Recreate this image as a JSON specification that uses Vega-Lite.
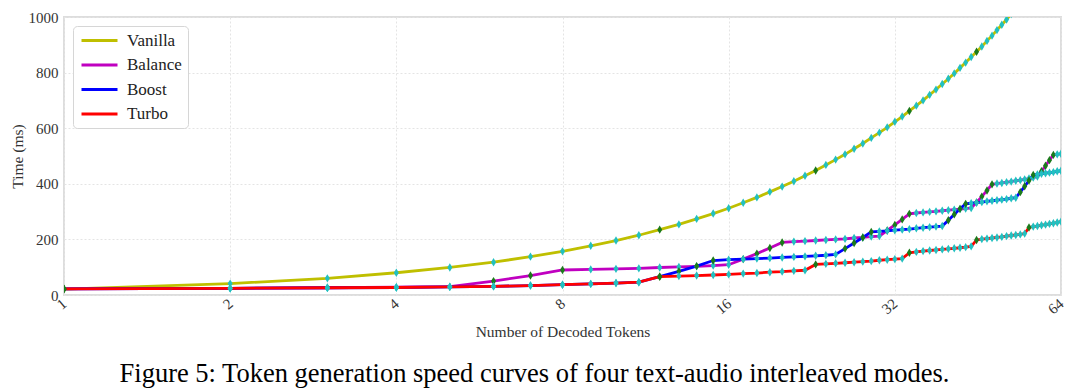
{
"$schema": "https://vega.github.io/schema/vega-lite/v6.json",
"width": 997, "height": 278,
"autosize": {"type": "none"},
"padding": {"left": 64, "top": 17, "right": 19, "bottom": 93},
"background": "white",
"title": {"text": "Figure 5: Token generation speed curves of four text-audio interleaved modes.", "orient": "bottom", "anchor": "middle", "font": "Liberation Serif", "fontSize": 26.5, "fontWeight": "normal", "color": "#000000", "offset": 21, "dx": -28},
"config": {
  "view": {"stroke": "#dddddd", "strokeWidth": 2},
  "axis": {"labelFont": "Liberation Serif", "titleFont": "Liberation Serif", "labelFontSize": 15, "titleFontSize": 15.5, "labelColor": "#333333", "titleColor": "#333333", "titleFontWeight": "normal", "gridColor": "#e4e4e4", "gridDash": [2, 2], "gridWidth": 1, "domain": false, "ticks": false}
},
"datasets": {
"speed": [
{"tokens":1,"mode":"Vanilla","ms":21,"kind":"jump"},{"tokens":2,"mode":"Vanilla","ms":41,"kind":"flat"},{"tokens":3,"mode":"Vanilla","ms":60,"kind":"flat"},{"tokens":4,"mode":"Vanilla","ms":80,"kind":"flat"},{"tokens":5,"mode":"Vanilla","ms":99,"kind":"flat"},{"tokens":6,"mode":"Vanilla","ms":118,"kind":"flat"},{"tokens":7,"mode":"Vanilla","ms":138,"kind":"flat"},{"tokens":8,"mode":"Vanilla","ms":157,"kind":"flat"},{"tokens":9,"mode":"Vanilla","ms":177,"kind":"flat"},{"tokens":10,"mode":"Vanilla","ms":196,"kind":"flat"},
{"tokens":11,"mode":"Vanilla","ms":215,"kind":"flat"},{"tokens":12,"mode":"Vanilla","ms":235,"kind":"jump"},{"tokens":13,"mode":"Vanilla","ms":254,"kind":"flat"},{"tokens":14,"mode":"Vanilla","ms":274,"kind":"flat"},{"tokens":15,"mode":"Vanilla","ms":293,"kind":"flat"},{"tokens":16,"mode":"Vanilla","ms":312,"kind":"flat"},{"tokens":17,"mode":"Vanilla","ms":332,"kind":"flat"},{"tokens":18,"mode":"Vanilla","ms":351,"kind":"flat"},{"tokens":19,"mode":"Vanilla","ms":371,"kind":"flat"},{"tokens":20,"mode":"Vanilla","ms":390,"kind":"flat"},
{"tokens":21,"mode":"Vanilla","ms":409,"kind":"flat"},{"tokens":22,"mode":"Vanilla","ms":429,"kind":"flat"},{"tokens":23,"mode":"Vanilla","ms":448,"kind":"jump"},{"tokens":24,"mode":"Vanilla","ms":468,"kind":"flat"},{"tokens":25,"mode":"Vanilla","ms":487,"kind":"flat"},{"tokens":26,"mode":"Vanilla","ms":506,"kind":"flat"},{"tokens":27,"mode":"Vanilla","ms":526,"kind":"flat"},{"tokens":28,"mode":"Vanilla","ms":545,"kind":"flat"},{"tokens":29,"mode":"Vanilla","ms":565,"kind":"flat"},{"tokens":30,"mode":"Vanilla","ms":584,"kind":"flat"},
{"tokens":31,"mode":"Vanilla","ms":603,"kind":"flat"},{"tokens":32,"mode":"Vanilla","ms":623,"kind":"flat"},{"tokens":33,"mode":"Vanilla","ms":642,"kind":"flat"},{"tokens":34,"mode":"Vanilla","ms":662,"kind":"jump"},{"tokens":35,"mode":"Vanilla","ms":681,"kind":"flat"},{"tokens":36,"mode":"Vanilla","ms":700,"kind":"flat"},{"tokens":37,"mode":"Vanilla","ms":720,"kind":"flat"},{"tokens":38,"mode":"Vanilla","ms":739,"kind":"flat"},{"tokens":39,"mode":"Vanilla","ms":759,"kind":"flat"},{"tokens":40,"mode":"Vanilla","ms":778,"kind":"flat"},
{"tokens":41,"mode":"Vanilla","ms":797,"kind":"flat"},{"tokens":42,"mode":"Vanilla","ms":817,"kind":"flat"},{"tokens":43,"mode":"Vanilla","ms":836,"kind":"flat"},{"tokens":44,"mode":"Vanilla","ms":856,"kind":"flat"},{"tokens":45,"mode":"Vanilla","ms":875,"kind":"jump"},{"tokens":46,"mode":"Vanilla","ms":894,"kind":"flat"},{"tokens":47,"mode":"Vanilla","ms":914,"kind":"flat"},{"tokens":48,"mode":"Vanilla","ms":933,"kind":"flat"},{"tokens":49,"mode":"Vanilla","ms":953,"kind":"flat"},{"tokens":50,"mode":"Vanilla","ms":972,"kind":"flat"},
{"tokens":51,"mode":"Vanilla","ms":991,"kind":"flat"},{"tokens":52,"mode":"Vanilla","ms":1011,"kind":"flat"},{"tokens":53,"mode":"Vanilla","ms":1030,"kind":"flat"},{"tokens":54,"mode":"Vanilla","ms":1050,"kind":"flat"},{"tokens":55,"mode":"Vanilla","ms":1069,"kind":"flat"},{"tokens":56,"mode":"Vanilla","ms":1088,"kind":"jump"},{"tokens":57,"mode":"Vanilla","ms":1108,"kind":"flat"},{"tokens":58,"mode":"Vanilla","ms":1127,"kind":"flat"},{"tokens":59,"mode":"Vanilla","ms":1147,"kind":"flat"},{"tokens":60,"mode":"Vanilla","ms":1166,"kind":"flat"},
{"tokens":61,"mode":"Vanilla","ms":1185,"kind":"flat"},{"tokens":62,"mode":"Vanilla","ms":1205,"kind":"flat"},{"tokens":63,"mode":"Vanilla","ms":1224,"kind":"flat"},{"tokens":64,"mode":"Vanilla","ms":1244,"kind":"flat"},
{"tokens":1,"mode":"Balance","ms":22,"kind":"jump"},{"tokens":2,"mode":"Balance","ms":24,"kind":"flat"},{"tokens":3,"mode":"Balance","ms":26,"kind":"flat"},{"tokens":4,"mode":"Balance","ms":28,"kind":"flat"},{"tokens":5,"mode":"Balance","ms":30,"kind":"flat"},{"tokens":6,"mode":"Balance","ms":50,"kind":"jump"},{"tokens":7,"mode":"Balance","ms":70,"kind":"jump"},{"tokens":8,"mode":"Balance","ms":90,"kind":"jump"},{"tokens":9,"mode":"Balance","ms":92,"kind":"flat"},{"tokens":10,"mode":"Balance","ms":94,"kind":"flat"},
{"tokens":11,"mode":"Balance","ms":96,"kind":"flat"},{"tokens":12,"mode":"Balance","ms":99,"kind":"flat"},{"tokens":13,"mode":"Balance","ms":101,"kind":"flat"},{"tokens":14,"mode":"Balance","ms":103,"kind":"flat"},{"tokens":15,"mode":"Balance","ms":106,"kind":"flat"},{"tokens":16,"mode":"Balance","ms":109,"kind":"flat"},{"tokens":17,"mode":"Balance","ms":129,"kind":"jump"},{"tokens":18,"mode":"Balance","ms":149,"kind":"jump"},{"tokens":19,"mode":"Balance","ms":169,"kind":"jump"},{"tokens":20,"mode":"Balance","ms":189,"kind":"jump"},
{"tokens":21,"mode":"Balance","ms":192,"kind":"flat"},{"tokens":22,"mode":"Balance","ms":194,"kind":"flat"},{"tokens":23,"mode":"Balance","ms":196,"kind":"flat"},{"tokens":24,"mode":"Balance","ms":198,"kind":"flat"},{"tokens":25,"mode":"Balance","ms":200,"kind":"flat"},{"tokens":26,"mode":"Balance","ms":202,"kind":"flat"},{"tokens":27,"mode":"Balance","ms":205,"kind":"flat"},{"tokens":28,"mode":"Balance","ms":207,"kind":"flat"},{"tokens":29,"mode":"Balance","ms":210,"kind":"flat"},{"tokens":30,"mode":"Balance","ms":212,"kind":"flat"},
{"tokens":31,"mode":"Balance","ms":232,"kind":"jump"},{"tokens":32,"mode":"Balance","ms":252,"kind":"jump"},{"tokens":33,"mode":"Balance","ms":272,"kind":"jump"},{"tokens":34,"mode":"Balance","ms":292,"kind":"jump"},{"tokens":35,"mode":"Balance","ms":295,"kind":"flat"},{"tokens":36,"mode":"Balance","ms":297,"kind":"flat"},{"tokens":37,"mode":"Balance","ms":299,"kind":"flat"},{"tokens":38,"mode":"Balance","ms":301,"kind":"flat"},{"tokens":39,"mode":"Balance","ms":303,"kind":"flat"},{"tokens":40,"mode":"Balance","ms":305,"kind":"flat"},
{"tokens":41,"mode":"Balance","ms":307,"kind":"flat"},{"tokens":42,"mode":"Balance","ms":309,"kind":"flat"},{"tokens":43,"mode":"Balance","ms":311,"kind":"flat"},{"tokens":44,"mode":"Balance","ms":313,"kind":"flat"},{"tokens":45,"mode":"Balance","ms":333,"kind":"jump"},{"tokens":46,"mode":"Balance","ms":354,"kind":"jump"},{"tokens":47,"mode":"Balance","ms":376,"kind":"jump"},{"tokens":48,"mode":"Balance","ms":398,"kind":"jump"},{"tokens":49,"mode":"Balance","ms":401,"kind":"flat"},{"tokens":50,"mode":"Balance","ms":403,"kind":"flat"},
{"tokens":51,"mode":"Balance","ms":406,"kind":"flat"},{"tokens":52,"mode":"Balance","ms":408,"kind":"flat"},{"tokens":53,"mode":"Balance","ms":411,"kind":"flat"},{"tokens":54,"mode":"Balance","ms":413,"kind":"flat"},{"tokens":55,"mode":"Balance","ms":416,"kind":"flat"},{"tokens":56,"mode":"Balance","ms":419,"kind":"flat"},{"tokens":57,"mode":"Balance","ms":422,"kind":"flat"},{"tokens":58,"mode":"Balance","ms":426,"kind":"flat"},{"tokens":59,"mode":"Balance","ms":445,"kind":"jump"},{"tokens":60,"mode":"Balance","ms":465,"kind":"jump"},
{"tokens":61,"mode":"Balance","ms":485,"kind":"jump"},{"tokens":62,"mode":"Balance","ms":504,"kind":"jump"},{"tokens":63,"mode":"Balance","ms":506,"kind":"flat"},{"tokens":64,"mode":"Balance","ms":508,"kind":"flat"},
{"tokens":1,"mode":"Boost","ms":22,"kind":"jump"},{"tokens":2,"mode":"Boost","ms":24,"kind":"flat"},{"tokens":3,"mode":"Boost","ms":26,"kind":"flat"},{"tokens":4,"mode":"Boost","ms":27,"kind":"flat"},{"tokens":5,"mode":"Boost","ms":29,"kind":"flat"},{"tokens":6,"mode":"Boost","ms":31,"kind":"flat"},{"tokens":7,"mode":"Boost","ms":34,"kind":"flat"},{"tokens":8,"mode":"Boost","ms":37,"kind":"flat"},{"tokens":9,"mode":"Boost","ms":40,"kind":"flat"},{"tokens":10,"mode":"Boost","ms":43,"kind":"flat"},
{"tokens":11,"mode":"Boost","ms":46,"kind":"flat"},{"tokens":12,"mode":"Boost","ms":66,"kind":"jump"},{"tokens":13,"mode":"Boost","ms":85,"kind":"jump"},{"tokens":14,"mode":"Boost","ms":104,"kind":"jump"},{"tokens":15,"mode":"Boost","ms":124,"kind":"jump"},{"tokens":16,"mode":"Boost","ms":127,"kind":"flat"},{"tokens":17,"mode":"Boost","ms":129,"kind":"flat"},{"tokens":18,"mode":"Boost","ms":131,"kind":"flat"},{"tokens":19,"mode":"Boost","ms":133,"kind":"flat"},{"tokens":20,"mode":"Boost","ms":135,"kind":"flat"},
{"tokens":21,"mode":"Boost","ms":137,"kind":"flat"},{"tokens":22,"mode":"Boost","ms":139,"kind":"flat"},{"tokens":23,"mode":"Boost","ms":141,"kind":"flat"},{"tokens":24,"mode":"Boost","ms":143,"kind":"flat"},{"tokens":25,"mode":"Boost","ms":146,"kind":"flat"},{"tokens":26,"mode":"Boost","ms":167,"kind":"jump"},{"tokens":27,"mode":"Boost","ms":187,"kind":"jump"},{"tokens":28,"mode":"Boost","ms":207,"kind":"jump"},{"tokens":29,"mode":"Boost","ms":227,"kind":"jump"},{"tokens":30,"mode":"Boost","ms":229,"kind":"flat"},
{"tokens":31,"mode":"Boost","ms":231,"kind":"flat"},{"tokens":32,"mode":"Boost","ms":233,"kind":"flat"},{"tokens":33,"mode":"Boost","ms":235,"kind":"flat"},{"tokens":34,"mode":"Boost","ms":237,"kind":"flat"},{"tokens":35,"mode":"Boost","ms":240,"kind":"flat"},{"tokens":36,"mode":"Boost","ms":242,"kind":"flat"},{"tokens":37,"mode":"Boost","ms":244,"kind":"flat"},{"tokens":38,"mode":"Boost","ms":246,"kind":"flat"},{"tokens":39,"mode":"Boost","ms":248,"kind":"flat"},{"tokens":40,"mode":"Boost","ms":269,"kind":"jump"},
{"tokens":41,"mode":"Boost","ms":290,"kind":"jump"},{"tokens":42,"mode":"Boost","ms":310,"kind":"jump"},{"tokens":43,"mode":"Boost","ms":328,"kind":"jump"},{"tokens":44,"mode":"Boost","ms":330,"kind":"flat"},{"tokens":45,"mode":"Boost","ms":332,"kind":"flat"},{"tokens":46,"mode":"Boost","ms":334,"kind":"flat"},{"tokens":47,"mode":"Boost","ms":337,"kind":"flat"},{"tokens":48,"mode":"Boost","ms":339,"kind":"flat"},{"tokens":49,"mode":"Boost","ms":341,"kind":"flat"},{"tokens":50,"mode":"Boost","ms":343,"kind":"flat"},
{"tokens":51,"mode":"Boost","ms":345,"kind":"flat"},{"tokens":52,"mode":"Boost","ms":348,"kind":"flat"},{"tokens":53,"mode":"Boost","ms":350,"kind":"flat"},{"tokens":54,"mode":"Boost","ms":370,"kind":"jump"},{"tokens":55,"mode":"Boost","ms":391,"kind":"jump"},{"tokens":56,"mode":"Boost","ms":412,"kind":"jump"},{"tokens":57,"mode":"Boost","ms":432,"kind":"jump"},{"tokens":58,"mode":"Boost","ms":434,"kind":"flat"},{"tokens":59,"mode":"Boost","ms":436,"kind":"flat"},{"tokens":60,"mode":"Boost","ms":438,"kind":"flat"},
{"tokens":61,"mode":"Boost","ms":440,"kind":"flat"},{"tokens":62,"mode":"Boost","ms":442,"kind":"flat"},{"tokens":63,"mode":"Boost","ms":445,"kind":"flat"},{"tokens":64,"mode":"Boost","ms":447,"kind":"flat"},
{"tokens":1,"mode":"Turbo","ms":22,"kind":"jump"},{"tokens":2,"mode":"Turbo","ms":24,"kind":"flat"},{"tokens":3,"mode":"Turbo","ms":26,"kind":"flat"},{"tokens":4,"mode":"Turbo","ms":27,"kind":"flat"},{"tokens":5,"mode":"Turbo","ms":29,"kind":"flat"},{"tokens":6,"mode":"Turbo","ms":31,"kind":"flat"},{"tokens":7,"mode":"Turbo","ms":34,"kind":"flat"},{"tokens":8,"mode":"Turbo","ms":37,"kind":"flat"},{"tokens":9,"mode":"Turbo","ms":40,"kind":"flat"},{"tokens":10,"mode":"Turbo","ms":43,"kind":"flat"},
{"tokens":11,"mode":"Turbo","ms":46,"kind":"flat"},{"tokens":12,"mode":"Turbo","ms":66,"kind":"jump"},{"tokens":13,"mode":"Turbo","ms":68,"kind":"flat"},{"tokens":14,"mode":"Turbo","ms":70,"kind":"flat"},{"tokens":15,"mode":"Turbo","ms":72,"kind":"flat"},{"tokens":16,"mode":"Turbo","ms":74,"kind":"flat"},{"tokens":17,"mode":"Turbo","ms":77,"kind":"flat"},{"tokens":18,"mode":"Turbo","ms":79,"kind":"flat"},{"tokens":19,"mode":"Turbo","ms":82,"kind":"flat"},{"tokens":20,"mode":"Turbo","ms":84,"kind":"flat"},
{"tokens":21,"mode":"Turbo","ms":87,"kind":"flat"},{"tokens":22,"mode":"Turbo","ms":89,"kind":"flat"},{"tokens":23,"mode":"Turbo","ms":110,"kind":"jump"},{"tokens":24,"mode":"Turbo","ms":112,"kind":"flat"},{"tokens":25,"mode":"Turbo","ms":114,"kind":"flat"},{"tokens":26,"mode":"Turbo","ms":116,"kind":"flat"},{"tokens":27,"mode":"Turbo","ms":118,"kind":"flat"},{"tokens":28,"mode":"Turbo","ms":120,"kind":"flat"},{"tokens":29,"mode":"Turbo","ms":122,"kind":"flat"},{"tokens":30,"mode":"Turbo","ms":125,"kind":"flat"},
{"tokens":31,"mode":"Turbo","ms":127,"kind":"flat"},{"tokens":32,"mode":"Turbo","ms":129,"kind":"flat"},{"tokens":33,"mode":"Turbo","ms":131,"kind":"flat"},{"tokens":34,"mode":"Turbo","ms":152,"kind":"jump"},{"tokens":35,"mode":"Turbo","ms":155,"kind":"flat"},{"tokens":36,"mode":"Turbo","ms":158,"kind":"flat"},{"tokens":37,"mode":"Turbo","ms":160,"kind":"flat"},{"tokens":38,"mode":"Turbo","ms":162,"kind":"flat"},{"tokens":39,"mode":"Turbo","ms":164,"kind":"flat"},{"tokens":40,"mode":"Turbo","ms":166,"kind":"flat"},
{"tokens":41,"mode":"Turbo","ms":168,"kind":"flat"},{"tokens":42,"mode":"Turbo","ms":170,"kind":"flat"},{"tokens":43,"mode":"Turbo","ms":172,"kind":"flat"},{"tokens":44,"mode":"Turbo","ms":175,"kind":"flat"},{"tokens":45,"mode":"Turbo","ms":198,"kind":"jump"},{"tokens":46,"mode":"Turbo","ms":201,"kind":"flat"},{"tokens":47,"mode":"Turbo","ms":203,"kind":"flat"},{"tokens":48,"mode":"Turbo","ms":205,"kind":"flat"},{"tokens":49,"mode":"Turbo","ms":207,"kind":"flat"},{"tokens":50,"mode":"Turbo","ms":209,"kind":"flat"},
{"tokens":51,"mode":"Turbo","ms":212,"kind":"flat"},{"tokens":52,"mode":"Turbo","ms":214,"kind":"flat"},{"tokens":53,"mode":"Turbo","ms":216,"kind":"flat"},{"tokens":54,"mode":"Turbo","ms":218,"kind":"flat"},{"tokens":55,"mode":"Turbo","ms":221,"kind":"flat"},{"tokens":56,"mode":"Turbo","ms":243,"kind":"jump"},{"tokens":57,"mode":"Turbo","ms":246,"kind":"flat"},{"tokens":58,"mode":"Turbo","ms":248,"kind":"flat"},{"tokens":59,"mode":"Turbo","ms":251,"kind":"flat"},{"tokens":60,"mode":"Turbo","ms":253,"kind":"flat"},
{"tokens":61,"mode":"Turbo","ms":256,"kind":"flat"},{"tokens":62,"mode":"Turbo","ms":258,"kind":"flat"},{"tokens":63,"mode":"Turbo","ms":261,"kind":"flat"},{"tokens":64,"mode":"Turbo","ms":264,"kind":"flat"}
]
},
"data": {"name": "speed"},
"encoding": {
  "x": {"field": "tokens", "type": "quantitative", "scale": {"type": "log", "base": 2, "domain": [1, 64], "nice": false}, "axis": {"values": [1, 2, 4, 8, 16, 32, 64], "labelAngle": -40, "labelAlign": "right", "labelBaseline": "middle", "labelPadding": 6, "title": "Number of Decoded Tokens", "titlePadding": 8, "grid": true}},
  "y": {"field": "ms", "type": "quantitative", "scale": {"domain": [0, 1000], "nice": false}, "axis": {"values": [0, 200, 400, 600, 800, 1000], "format": "d", "title": "Time (ms)", "titlePadding": 3, "labelPadding": 6, "grid": true}}
},
"layer": [
  {"transform": [{"filter": "datum.mode === 'Vanilla'"}], "mark": {"type": "line", "strokeWidth": 2.8, "clip": true},
   "encoding": {"color": {"field": "mode", "type": "nominal", "scale": {"domain": ["Vanilla", "Balance", "Boost", "Turbo"], "range": ["#bfbf00", "#c000c0", "#0000ff", "#ff0000"]},
     "legend": {"title": null, "orient": "top-left", "offset": 9, "fillColor": "white", "strokeColor": "#d6d6d6", "cornerRadius": 4, "padding": 6, "symbolType": "M-1,0H5", "symbolSize": 144, "symbolStrokeWidth": 3, "labelOffset": 31, "labelFont": "Liberation Serif", "labelFontSize": 17, "labelColor": "#222222", "rowPadding": 6.5}}}},
  {"transform": [{"filter": "datum.mode === 'Balance'"}], "mark": {"type": "line", "strokeWidth": 2.8, "clip": true},
   "encoding": {"color": {"field": "mode", "type": "nominal"}}},
  {"transform": [{"filter": "datum.mode === 'Boost'"}], "mark": {"type": "line", "strokeWidth": 2.8, "clip": true},
   "encoding": {"color": {"field": "mode", "type": "nominal"}}},
  {"transform": [{"filter": "datum.mode === 'Turbo'"}], "mark": {"type": "line", "strokeWidth": 2.8, "clip": true},
   "encoding": {"color": {"field": "mode", "type": "nominal"}}},
  {"mark": {"type": "point", "shape": "M0,-1L0.6,0L0,1L-0.6,0Z", "filled": true, "size": 70, "opacity": 1, "clip": true},
   "encoding": {"fill": {"field": "kind", "type": "nominal", "scale": {"domain": ["flat", "jump"], "range": ["#22c0c0", "#1b7a1b"]}, "legend": null}}}
]
}
